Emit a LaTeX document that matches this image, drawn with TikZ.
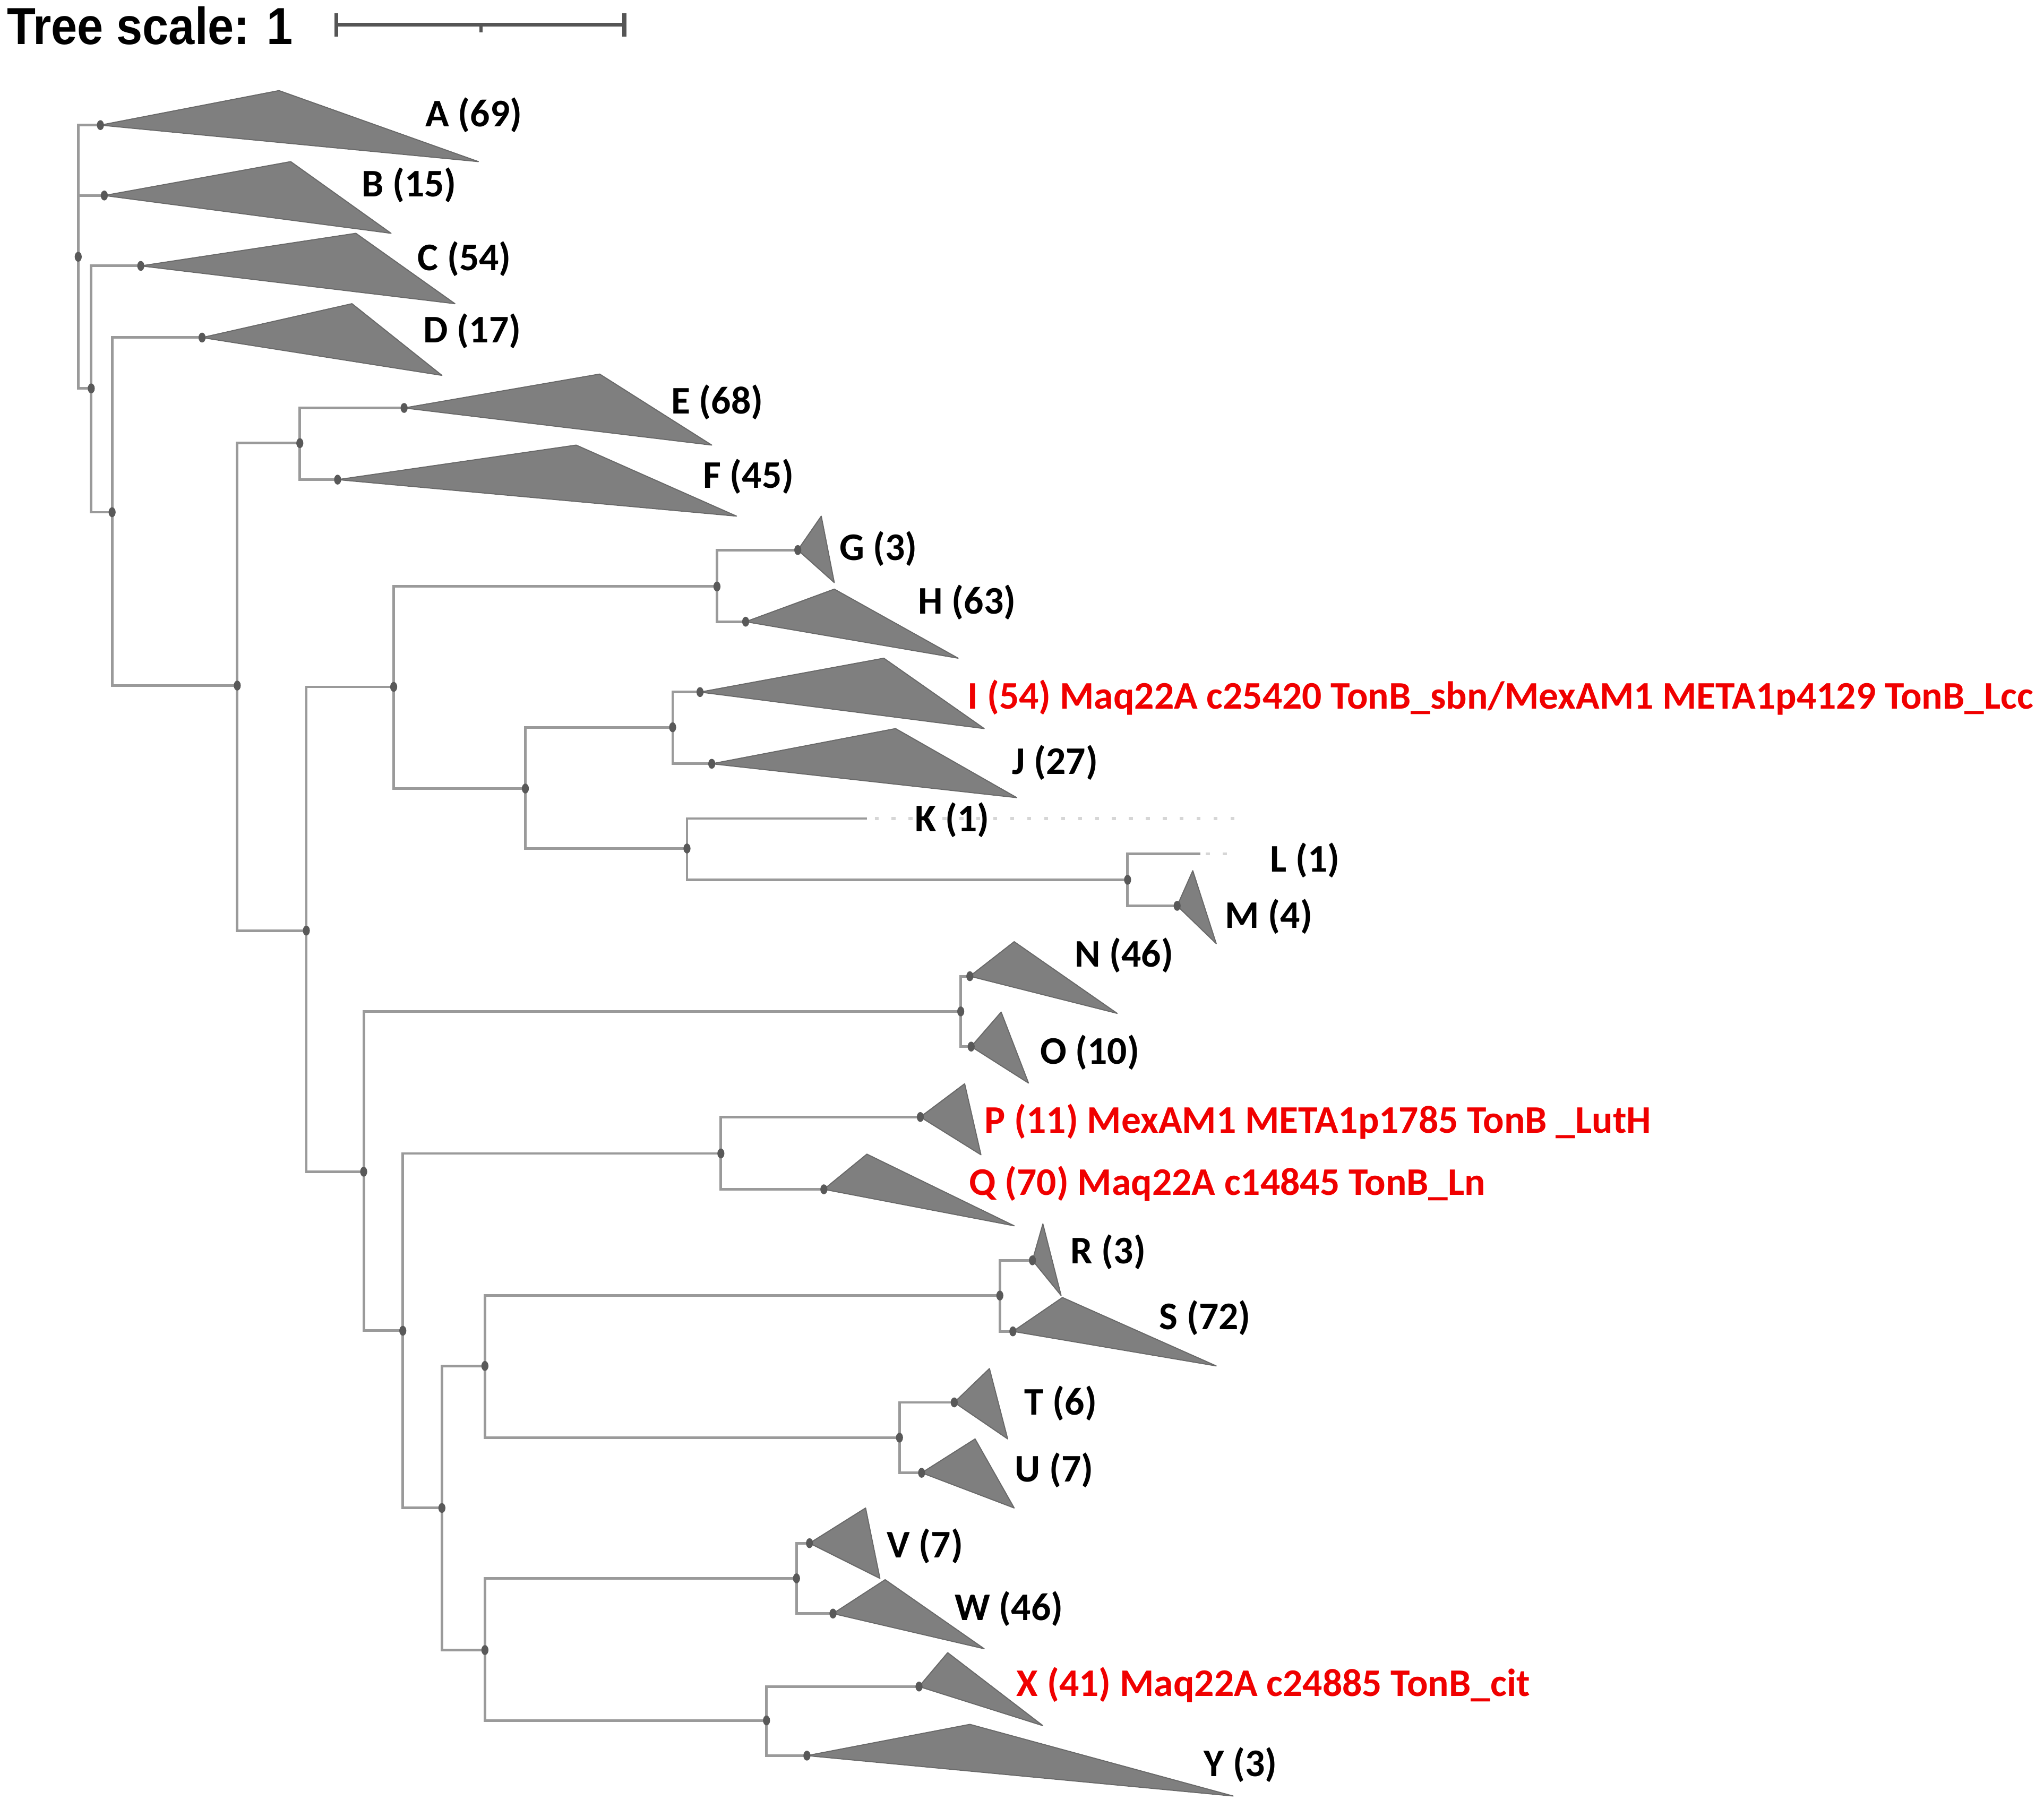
\documentclass[tikz,border=0pt]{standalone}
\usepackage{graphicx}
\usepackage{fontspec}
\newfontfamily\labfont{Carlito}
\newfontfamily\treescalefont{Liberation Sans}
\definecolor{brc}{HTML}{9A9A9A}
\definecolor{tric}{HTML}{7F7F7F}
\definecolor{tried}{HTML}{696969}
\definecolor{dotc}{HTML}{595959}
\definecolor{sbc}{HTML}{555555}
\definecolor{kdot}{HTML}{D6D6D6}
\definecolor{labred}{HTML}{F00000}
\begin{document}
\begin{tikzpicture}[x=0.5pt,y=-0.5pt,
  br/.style={draw=brc, line width=1pt},
  clade/.style={fill=tric, draw=tried, line width=0.4pt, line join=round},
  lab/.style={font=\labfont\bfseries\fontsize{15pt}{16pt}\selectfont, anchor=base west, inner sep=0pt},
  redlab/.style={lab, text=labred},
  sbar/.style={draw=sbc, line width=1.5pt},
  leafdots/.style={draw=kdot, line width=1.1pt, dash pattern=on 1.5pt off 5pt}]
\useasboundingbox (0,0) rectangle (1568,1381);
% internal nodes
\coordinate (n1) at (60,197);
\coordinate (n2) at (70,298);
\coordinate (n3) at (86,393);
\coordinate (n4) at (182,526);
\coordinate (nEF) at (230,340);
\coordinate (n5) at (235,714);
\coordinate (n6) at (302,527);
\coordinate (nGH) at (550,450);
\coordinate (nIK) at (403,605);
\coordinate (nIJ) at (516,558);
\coordinate (nKM) at (527,651);
\coordinate (nLM) at (865,675);
\coordinate (n7) at (279,899);
\coordinate (nNO) at (737,776);
\coordinate (n8) at (309,1021);
\coordinate (nPQ) at (553,885);
\coordinate (n9) at (339,1157);
\coordinate (n10) at (372,1048);
\coordinate (nRS) at (767,994);
\coordinate (nTU) at (690,1103);
\coordinate (n11) at (372,1266);
\coordinate (nVW) at (611,1211);
\coordinate (nXY) at (588,1320);
% single leaves
\coordinate (K) at (665,628);
\coordinate (Kend) at (947,628);
\coordinate (L) at (921,655);
\coordinate (Lend) at (947,655);
% clade start points
\coordinate (A) at (77,96);
\coordinate (B) at (80,150);
\coordinate (C) at (108,204);
\coordinate (D) at (155,259);
\coordinate (E) at (310,313);
\coordinate (F) at (259,368);
\coordinate (G) at (612,422);
\coordinate (H) at (572,477);
\coordinate (I) at (537,531);
\coordinate (J) at (546,586);
\coordinate (M) at (903,695);
\coordinate (N) at (744,749);
\coordinate (O) at (745,803);
\coordinate (P) at (706,857);
\coordinate (Q) at (632,912.5);
\coordinate (R) at (792,967);
\coordinate (S) at (777,1021.5);
\coordinate (T) at (732,1076);
\coordinate (U) at (707,1130);
\coordinate (V) at (621,1184);
\coordinate (W) at (639,1238);
\coordinate (X) at (705,1294);
\coordinate (Y) at (619,1347);
% branches
\draw[br] (n1) |- (A);
\draw[br] (n1) |- (B);
\draw[br] (n1) |- (n2);
\draw[br] (n2) |- (C);
\draw[br] (n2) |- (n3);
\draw[br] (n3) |- (D);
\draw[br] (n3) |- (n4);
\draw[br] (n4) |- (nEF);
\draw[br] (n4) |- (n5);
\draw[br] (nEF) |- (E);
\draw[br] (nEF) |- (F);
\draw[br] (n5) |- (n6);
\draw[br] (n5) |- (n7);
\draw[br] (n6) |- (nGH);
\draw[br] (n6) |- (nIK);
\draw[br] (nGH) |- (G);
\draw[br] (nGH) |- (H);
\draw[br] (nIK) |- (nIJ);
\draw[br] (nIK) |- (nKM);
\draw[br] (nIJ) |- (I);
\draw[br] (nIJ) |- (J);
\draw[br] (nKM) |- (K);
\draw[br] (nKM) |- (nLM);
\draw[br] (nLM) |- (L);
\draw[br] (nLM) |- (M);
\draw[br] (n7) |- (nNO);
\draw[br] (n7) |- (n8);
\draw[br] (nNO) |- (N);
\draw[br] (nNO) |- (O);
\draw[br] (n8) |- (nPQ);
\draw[br] (n8) |- (n9);
\draw[br] (nPQ) |- (P);
\draw[br] (nPQ) |- (Q);
\draw[br] (n9) |- (n10);
\draw[br] (n9) |- (n11);
\draw[br] (n10) |- (nRS);
\draw[br] (n10) |- (nTU);
\draw[br] (nRS) |- (R);
\draw[br] (nRS) |- (S);
\draw[br] (nTU) |- (T);
\draw[br] (nTU) |- (U);
\draw[br] (n11) |- (nVW);
\draw[br] (n11) |- (nXY);
\draw[br] (nVW) |- (V);
\draw[br] (nVW) |- (W);
\draw[br] (nXY) |- (X);
\draw[br] (nXY) |- (Y);
\draw[leafdots] ([xshift=3pt]K) -- (Kend);
\draw[leafdots] ([xshift=2pt]L) -- (Lend);
% collapsed clades
\filldraw[clade] (A) -- (214,69.5) -- (367,124) -- cycle;
\filldraw[clade] (B) -- (223,124) -- (300,179) -- cycle;
\filldraw[clade] (C) -- (273,179) -- (349,233) -- cycle;
\filldraw[clade] (D) -- (270,233) -- (339,288) -- cycle;
\filldraw[clade] (E) -- (460,287) -- (546,341.5) -- cycle;
\filldraw[clade] (F) -- (442,341.5) -- (565,396) -- cycle;
\filldraw[clade] (G) -- (630,396) -- (640,447) -- cycle;
\filldraw[clade] (H) -- (640,452) -- (735,505) -- cycle;
\filldraw[clade] (I) -- (678,505) -- (755,559) -- cycle;
\filldraw[clade] (J) -- (687,559) -- (780,612) -- cycle;
\filldraw[clade] (M) -- (915,668) -- (933,724) -- cycle;
\filldraw[clade] (N) -- (778,722.5) -- (857,777.5) -- cycle;
\filldraw[clade] (O) -- (768,776.5) -- (789,831) -- cycle;
\filldraw[clade] (P) -- (740,831.5) -- (752.5,886) -- cycle;
\filldraw[clade] (Q) -- (665,885.5) -- (778,940.5) -- cycle;
\filldraw[clade] (R) -- (800,939) -- (814,994) -- cycle;
\filldraw[clade] (S) -- (815,995.5) -- (933,1048) -- cycle;
\filldraw[clade] (T) -- (759,1050) -- (773,1104) -- cycle;
\filldraw[clade] (U) -- (748,1104) -- (778,1157) -- cycle;
\filldraw[clade] (V) -- (664,1157) -- (675,1211) -- cycle;
\filldraw[clade] (W) -- (679,1212) -- (755,1265) -- cycle;
\filldraw[clade] (X) -- (727,1268) -- (800,1324) -- cycle;
\filldraw[clade] (Y) -- (744,1323) -- (946,1378) -- cycle;
% node dots
\foreach \p in {n1,n2,n3,n4,nEF,n5,n6,nGH,nIK,nIJ,nKM,nLM,n7,nNO,n8,nPQ,n9,n10,nRS,nTU,n11,nVW,nXY,A,B,C,D,E,F,G,H,I,J,M,N,O,P,Q,R,S,T,U,V,W,X,Y}
  \fill[dotc] (\p) ellipse [x radius=1.35pt, y radius=1.9pt];
% labels
\node[lab] (lA) at (326,97) {A (69)};
\node[lab] (lB) at (277,151) {B (15)};
\node[lab] (lC) at (320,207.5) {C (54)};
\node[lab] (lD) at (324.5,263) {D (17)};
\node[lab] (lE) at (514.5,317.5) {E (68)};
\node[lab] (lF) at (539,374.5) {F (45)};
\node[lab] (lG) at (643.5,430) {G (3)};
\node[lab] (lH) at (704,471) {H (63)};
\node[redlab] (lI) at (742,544) {I (54) Maq22A c25420 TonB\_sbn/MexAM1 META1p4129 TonB\_Lcc};
\node[lab] (lJ) at (776,594) {J (27)};
\node[lab] (lK) at (701.5,638) {K (1)};
\node[lab] (lL) at (974,669) {L (1)};
\node[lab] (lM) at (939.5,712) {M (4)};
\node[lab] (lN) at (824,742) {N (46)};
\node[lab] (lO) at (797.5,816.5) {O (10)};
\node[redlab] (lP) at (755,869.5) {P (11) MexAM1 META1p1785 TonB \_LutH};
\node[redlab] (lQ) at (743,917) {Q (70) Maq22A c14845 TonB\_Ln};
\node[lab] (lR) at (821,969.5) {R (3)};
\node[lab] (lS) at (889,1020) {S (72)};
\node[lab] (lT) at (785.5,1085.5) {T (6)};
\node[lab] (lU) at (778,1137) {U (7)};
\node[lab] (lV) at (680,1195) {V (7)};
\node[lab] (lW) at (732,1243) {W (46)};
\node[redlab] (lX) at (779.5,1301.5) {X (41) Maq22A c24885 TonB\_cit};
\node[lab] (lY) at (923,1363) {Y (3)};
% tree scale
\node[anchor=base west, inner sep=0pt] (ts) at (5,34) {\treescalefont\bfseries\fontsize{20pt}{22pt}\selectfont\scalebox{0.9}[1]{Tree scale: 1}};
\coordinate (sb1) at (258,19);
\coordinate (sb2) at (479,19);
\coordinate (sbm) at (369,19);
\draw[sbar] (sb1) -- (sb2);
\draw[sbar] ([yshift=4.5pt]sb1) -- ([yshift=-4.5pt]sb1);
\draw[sbar] ([yshift=4.5pt]sb2) -- ([yshift=-4.5pt]sb2);
\draw[sbar, line width=1.1pt] (sbm) -- ([yshift=-3pt]sbm);
\end{tikzpicture}
\end{document}
